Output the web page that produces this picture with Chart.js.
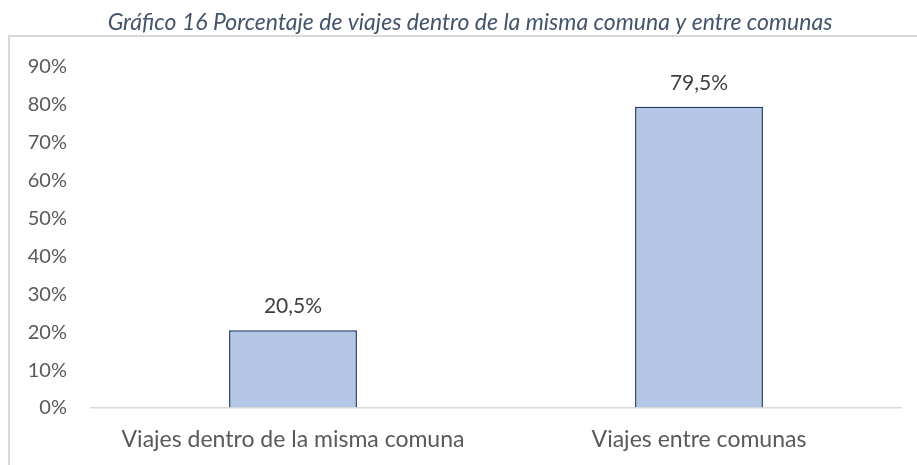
<!DOCTYPE html>
<html>
<head>
<meta charset="utf-8">
<script src="https://cdn.jsdelivr.net/npm/chart.js@4"></script>
<style>
html,body{margin:0;padding:0;background:#fff;}
#wrap{width:917px;height:465px;position:relative;}
</style>
</head>
<body>
<div id="wrap"><canvas id="c" width="917" height="465"></canvas></div>
<script>
const categories = ["Viajes dentro de la misma comuna", "Viajes entre comunas"];
const values = [20.5, 79.5];
const yTicks = [0, 10, 20, 30, 40, 50, 60, 70, 80, 90];
const titleText = "Gráfico 16 Porcentaje de viajes dentro de la misma comuna y entre comunas";

const FONT = "Lato, 'Open Sans', sans-serif";

const frame = {
  id: 'frame',
  beforeDraw(chart) {
    const ctx = chart.ctx;
    ctx.save();
    ctx.strokeStyle = '#d9d9d9';
    ctx.lineWidth = 2;
    ctx.beginPath();
    ctx.moveTo(9, 465);
    ctx.lineTo(9, 36);
    ctx.lineTo(917, 36);
    ctx.stroke();
    ctx.fillStyle = '#44546A';
    ctx.font = "italic 23px " + FONT;
    ctx.textAlign = 'center';
    ctx.textBaseline = 'middle';
    ctx.fillText(titleText, 470, 23);
    ctx.restore();
  }
};

const valueLabels = {
  id: 'valueLabels',
  afterDatasetsDraw(chart) {
    const ctx = chart.ctx;
    const meta = chart.getDatasetMeta(0);
    ctx.save();
    ctx.font = "21px " + FONT;
    ctx.fillStyle = '#404040';
    ctx.textAlign = 'center';
    ctx.textBaseline = 'middle';
    meta.data.forEach((bar, i) => {
      const v = chart.data.datasets[0].data[i];
      ctx.fillText(v.toFixed(1).replace('.', ',') + '%', bar.x, bar.y - 24);
    });
    ctx.restore();
  }
};

new Chart(document.getElementById('c'), {
  type: 'bar',
  data: {
    labels: categories,
    datasets: [{
      data: values,
      backgroundColor: '#B4C7E7',
      borderColor: '#203864',
      borderWidth: 1.5,
      categoryPercentage: 1,
      barPercentage: 0.315
    }]
  },
  options: {
    responsive: false,
    animation: false,
    layout: { padding: { top: 67, right: 15, left: 0, bottom: 0 } },
    plugins: {
      legend: { display: false },
      tooltip: { enabled: false },
      title: { display: false }
    },
    scales: {
      y: {
        min: 0,
        max: 90,
        afterBuildTicks(scale) { scale.ticks = yTicks.map(v => ({ value: v })); },
        afterFit(scale) { scale.width = 90; },
        border: { display: false },
        grid: {
          drawTicks: false,
          color: (c) => (c.tick && c.tick.value === 0) ? '#d9d9d9' : 'rgba(0,0,0,0)',
          lineWidth: 1.5
        },
        ticks: {
          padding: 23,
          color: '#595959',
          font: { family: FONT, size: 20 },
          callback: (v) => v + '%'
        }
      },
      x: {
        afterFit(scale) { scale.height = 57; },
        border: { display: false },
        grid: { display: false, drawTicks: false },
        ticks: {
          padding: 18,
          color: '#595959',
          font: { family: FONT, size: 23 },
          maxRotation: 0
        }
      }
    }
  },
  plugins: [frame, valueLabels]
});
</script>
</body>
</html>
